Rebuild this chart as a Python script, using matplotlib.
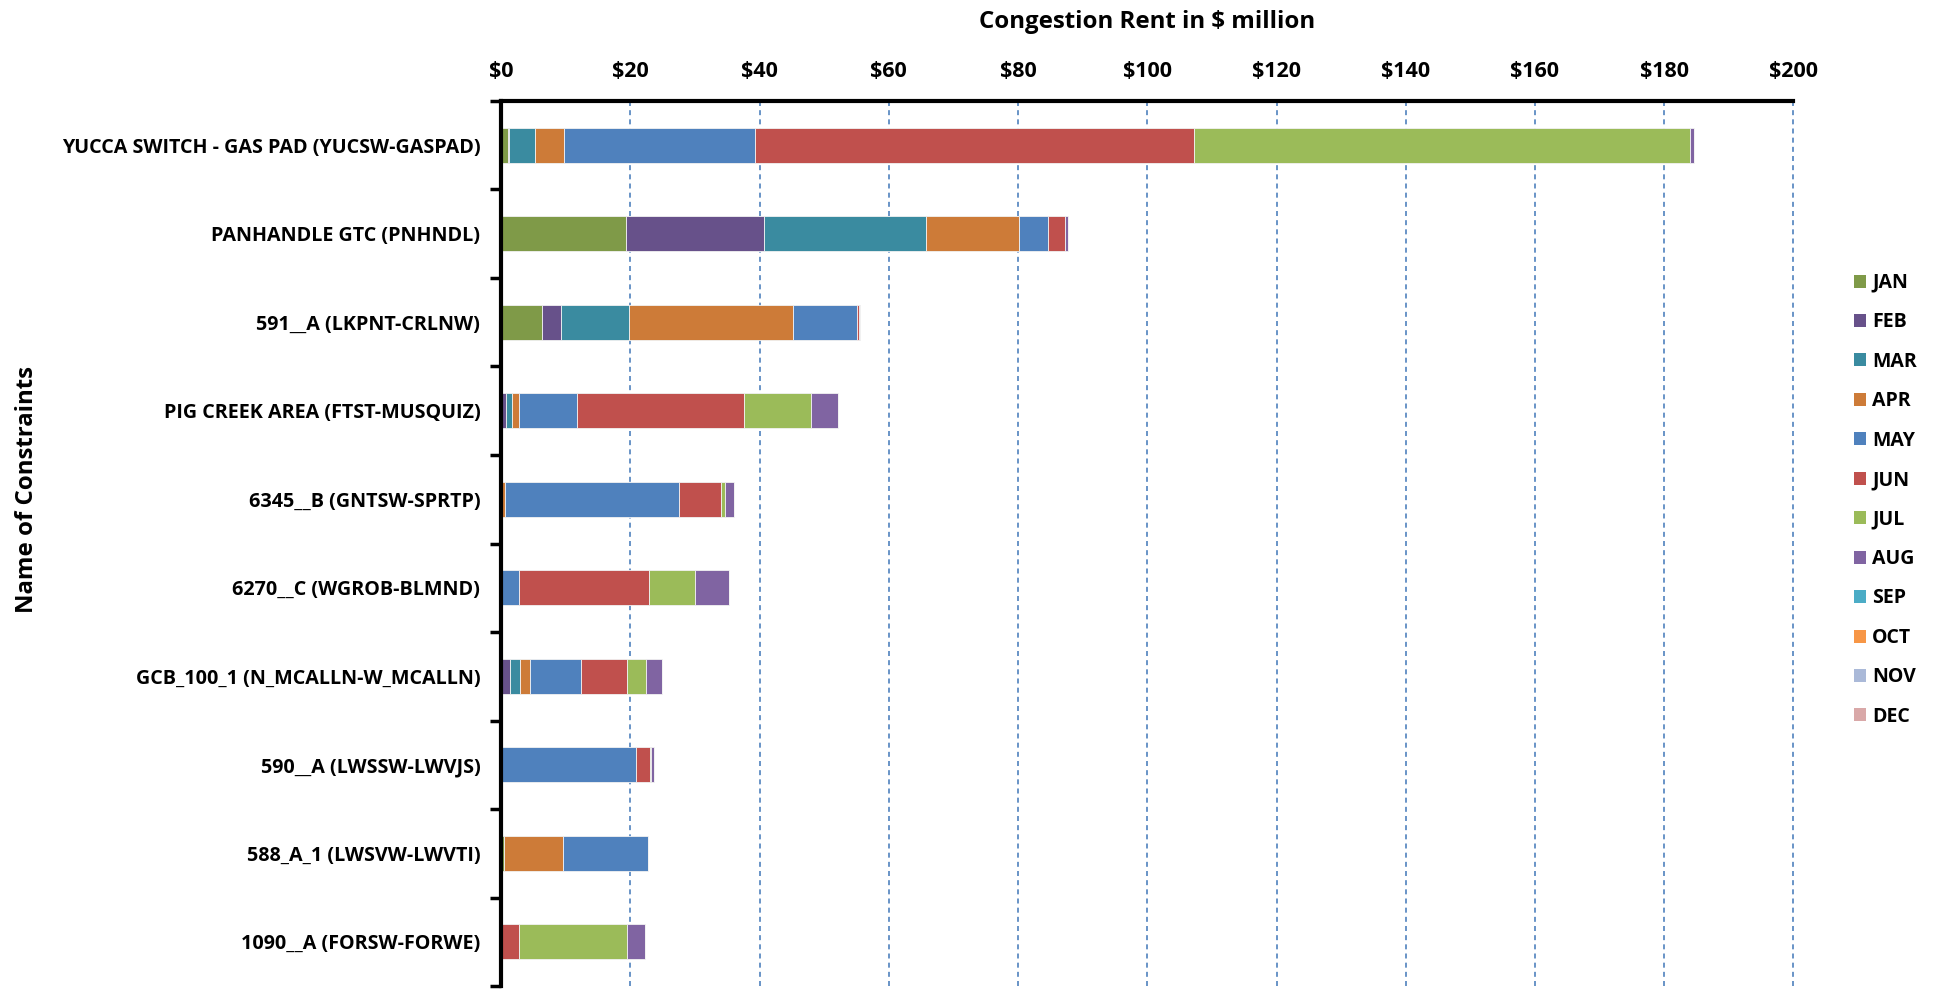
import matplotlib
matplotlib.use("Agg")
import matplotlib.pyplot as plt
import numpy as np
from matplotlib.patches import Patch

constraints = [
    "YUCCA SWITCH - GAS PAD (YUCSW-GASPAD)",
    "PANHANDLE GTC (PNHNDL)",
    "591__A (LKPNT-CRLNW)",
    "PIG CREEK AREA (FTST-MUSQUIZ)",
    "6345__B (GNTSW-SPRTP)",
    "6270__C (WGROB-BLMND)",
    "GCB_100_1 (N_MCALLN-W_MCALLN)",
    "590__A (LWSSW-LWVJS)",
    "588_A_1 (LWSVW-LWVTI)",
    "1090__A (FORSW-FORWE)",
]
months = ["JAN", "FEB", "MAR", "APR", "MAY", "JUN", "JUL", "AUG", "SEP", "OCT", "NOV", "DEC"]

jan = [1.0, 19.4, 6.4, 0.0, 0.0, 0.0, 0.0, 0.0, 0.5, 0.0]
feb = [0.2, 21.3, 2.8, 0.8, 0.0, 0.0, 1.3, 0.0, 0.0, 0.0]
mar = [4.0, 25.1, 10.6, 0.9, 0.0, 0.0, 1.6, 0.0, 0.0, 0.0]
apr = [4.5, 14.4, 25.4, 1.0, 0.6, 0.0, 1.5, 0.0, 9.1, 0.0]
may = [29.6, 4.5, 9.9, 9.0, 26.9, 2.7, 8.0, 20.8, 13.2, 0.0]
jun = [67.9, 2.6, 0.3, 25.9, 6.5, 20.2, 7.1, 2.2, 0.0, 2.8]
jul = [76.8, 0.0, 0.0, 10.3, 0.6, 7.1, 3.0, 0.2, 0.0, 16.7]
aug = [0.6, 0.4, 0.15, 4.3, 1.4, 5.2, 2.4, 0.4, 0.0, 2.8]
sep = [0.0] * 10
oct_ = [0.0] * 10
nov = [0.0] * 10
dec = [0.0] * 10

xticks = [0, 20, 40, 60, 80, 100, 120, 140, 160, 180, 200]
xtick_labels = ["\\$" + str(v) for v in xticks]

colors = ["#7F9A48", "#67518A", "#3A8BA0", "#CD7B38", "#4F81BD", "#C0504D",
          "#9BBB59", "#8064A2", "#4BACC6", "#F79646", "#AAB9D8", "#D9A8A8"]

series = [jan, feb, mar, apr, may, jun, jul, aug, sep, oct_, nov, dec]

FONT = ["Open Sans", "DejaVu Sans"]
plt.rcParams["font.family"] = FONT
plt.rcParams["font.weight"] = "bold"

fig = plt.figure(figsize=(19.37, 9.90), dpi=100)
ax = fig.add_axes([0.2587, 0.004, 0.6672, 0.894])

y = np.arange(len(constraints))
left = np.zeros(len(constraints))
for vals, c, m in zip(series, colors, months):
    v = np.array(vals)
    ax.barh(y, v, left=left, height=0.4, color=c, edgecolor="#F2F2F2", linewidth=0.6, label=m, zorder=3)
    left += v

ax.set_xlim(0, 200)
ax.set_ylim(len(constraints) - 0.5, -0.5)

ax.xaxis.tick_top()
ax.xaxis.set_label_position("top")
ax.set_xticks(xticks)
ax.set_xticklabels(xtick_labels, fontsize=15.5, fontweight="bold")
ax.tick_params(axis="x", length=0, pad=14)

ax.set_yticks(np.arange(len(constraints) + 1) - 0.5)
ax.set_yticklabels([])
ax.set_yticks(y, minor=True)
ax.set_yticklabels(constraints, minor=True, fontsize=14.2, fontweight="bold")
ax.tick_params(axis="y", which="major", length=8, width=2.5, direction="out")
ax.tick_params(axis="y", which="minor", length=0, pad=15)

ax.grid(axis="x", color="#4F81BD", linestyle=(0, (3, 2.5)), linewidth=1.2, zorder=0, clip_on=False)
ax.set_axisbelow(True)

for s in ["right", "bottom"]:
    ax.spines[s].set_visible(False)
ax.spines["top"].set_linewidth(3)
ax.spines["left"].set_linewidth(3)
ax.spines["top"].set_color("black")
ax.spines["left"].set_color("black")
ax.spines["top"].set_zorder(5)
ax.spines["left"].set_zorder(5)

fig.text(0.592, 0.978, "Congestion Rent in \\$ million", ha="center", va="center",
         fontsize=17.3, fontweight="bold")
fig.text(0.0138, 0.506, "Name of Constraints", ha="center", va="center", rotation=90,
         fontsize=17.3, fontweight="bold")

handles = [Patch(facecolor=c, edgecolor="none") for c in colors]
leg = fig.legend(handles, months, loc="upper left", bbox_to_anchor=(0.948, 0.742),
                 frameon=False, handlelength=0.65, handleheight=0.65,
                 handletextpad=0.3, labelspacing=1.0, prop={"weight": "bold", "size": 14})

fig.savefig("out.png", dpi=100)
